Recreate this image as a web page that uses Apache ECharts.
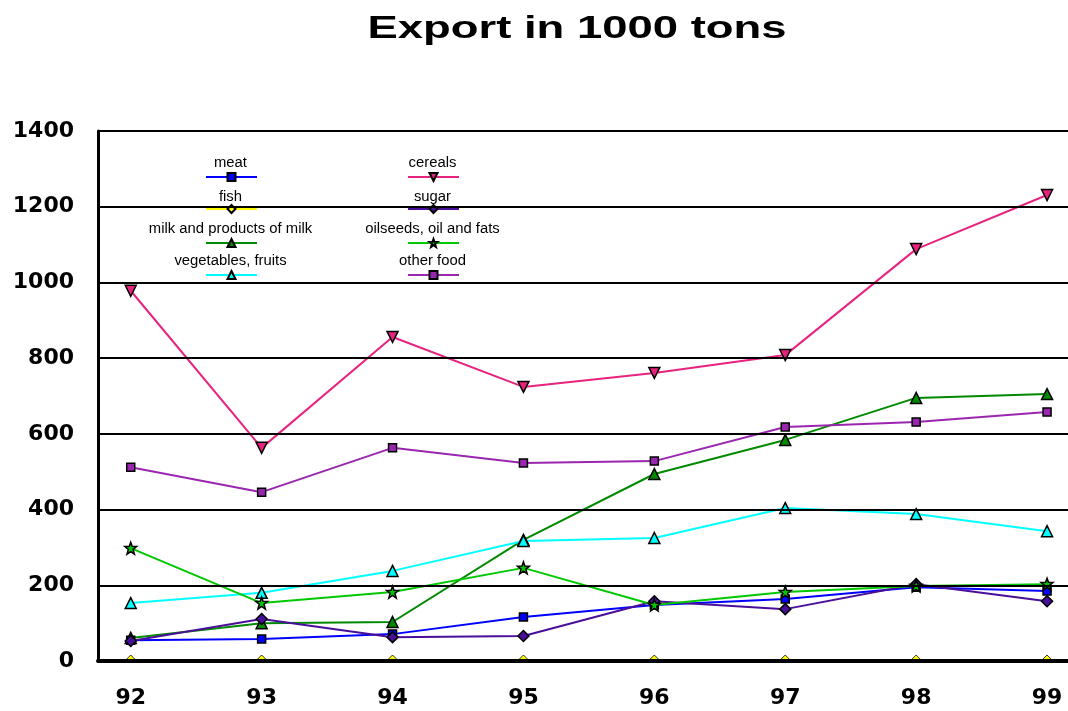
<!DOCTYPE html>
<html>
<head>
<meta charset="utf-8">
<script src="https://cdn.jsdelivr.net/npm/echarts@6/dist/echarts.min.js"></script>
<style>html,body{margin:0;padding:0;background:#fff}#c{width:1068px;height:711px}</style>
</head>
<body>
<div id="c"></div>
<script>
const years = [92, 93, 94, 95, 96, 97, 98, 99];
const yTicks = [0, 200, 400, 600, 800, 1000, 1200, 1400];
const seriesNames = ['meat', 'fish', 'milk and products of milk', 'vegetables, fruits', 'cereals', 'sugar', 'oilseeds, oil and fats', 'other food'];
const meat = [55, 58, 71, 116, 148, 164, 195, 185];
const fish = [0, 0, 0, 0, 0, 0, 0, 0];
const milk = [61, 100, 103, 320, 494, 584, 695, 705];
const vegetables = [153, 180, 238, 317, 325, 404, 388, 343];
const cereals = [978, 563, 856, 724, 761, 808, 1088, 1231];
const sugar = [53, 111, 63, 66, 158, 137, 203, 158];
const oilseeds = [298, 153, 182, 246, 148, 182, 198, 203];
const otherFood = [512, 446, 563, 523, 528, 618, 631, 658];

const starPath = 'path://M5,0 L6.2,3.4 L10,3.6 L7,6 L8.1,10 L5,7.8 L1.9,10 L3,6 L0,3.6 L3.8,3.4 Z';
const downTri = 'path://M0,0 L10,0 L5,9 Z';

const defs = [
  {name: seriesNames[0], data: meat, color: '#0000ff', symbol: 'rect', size: 8},
  {name: seriesNames[1], data: fish, color: '#ffff00', symbol: 'diamond', size: 8, offset: [0, -2], bw: 0.8},
  {name: seriesNames[2], data: milk, color: '#008a00', symbol: 'triangle', size: 11},
  {name: seriesNames[3], data: vegetables, color: '#00ffff', symbol: 'triangle', size: 11},
  {name: seriesNames[4], data: cereals, color: '#e8237f', symbol: downTri, size: 11},
  {name: seriesNames[5], data: sugar, color: '#4a0f9a', symbol: 'diamond', size: 11},
  {name: seriesNames[6], data: oilseeds, color: '#00c800', symbol: starPath, size: 12},
  {name: seriesNames[7], data: otherFood, color: '#9a26b0', symbol: 'rect', size: 8}
];

const series = defs.map(d => ({
  name: d.name,
  type: 'line',
  data: d.data.map((v, i) => [years[i], v]),
  symbol: d.symbol,
  symbolSize: d.size,
  symbolOffset: d.offset || [0, 0],
  showAllSymbol: true,
  lineStyle: {color: d.color, width: 2},
  itemStyle: {color: d.color, borderColor: '#000', borderWidth: d.bw || 1.5},
  emphasis: {disabled: true},
  animation: false,
  z: 3
}));

// legend layout: two columns, four rows
const legCols = [205, 407];
const legRows = [172, 204, 238, 270];
const textRows = [163, 197, 229, 261];
const legendOrder = [
  [seriesNames[0], 0, 0], [seriesNames[1], 0, 1], [seriesNames[2], 0, 2], [seriesNames[3], 0, 3],
  [seriesNames[4], 1, 0], [seriesNames[5], 1, 1], [seriesNames[6], 1, 2], [seriesNames[7], 1, 3]
];
const legends = legendOrder.map(([n, c, r]) => ({
  data: [n], left: legCols[c], top: legRows[r], padding: 0, itemGap: 0,
  itemWidth: 51, itemHeight: 10, formatter: () => '', textStyle: {fontSize: 1},
  selectedMode: false
}));
const graphics = legendOrder.map(([n, c, r]) => ({
  type: 'text', x: legCols[c] + 25.5, y: textRows[r], scaleX: 1.06,
  style: {text: n, font: '14px "Liberation Sans", Arial, sans-serif', fill: '#000', align: 'center', verticalAlign: 'middle'},
  z: 10
}));
graphics.push({
  type: 'text', x: 577, y: 29, scaleX: 1.42,
  style: {text: 'Export in 1000 tons', font: 'bold 32px "Liberation Sans", Arial, sans-serif', fill: '#000', align: 'center', verticalAlign: 'middle'},
  z: 10
});

const chart = echarts.init(document.getElementById('c'), null, {renderer: 'canvas'});
chart.setOption({
  backgroundColor: '#fff',
  animation: false,
  legend: legends,
  graphic: graphics,
  grid: {left: 98, top: 131, bottom: 50, right: 0, containLabel: false},
  xAxis: {
    type: 'value', min: 91.75, max: 99.16, interval: 0.25, z: 10,
    axisLine: {show: true, onZero: false, lineStyle: {color: '#000', width: 4}},
    axisTick: {show: false},
    splitLine: {show: false},
    axisLabel: {
      margin: 26, color: '#000', fontFamily: '"DejaVu Sans", sans-serif', fontWeight: 'bold', fontSize: 22,
      showMaxLabel: false, showMinLabel: false,
      formatter: v => (Math.abs(v - Math.round(v)) < 1e-6 && years.indexOf(Math.round(v)) >= 0) ? String(Math.round(v)) : ''
    }
  },
  yAxis: {
    type: 'value', min: yTicks[0], max: yTicks[yTicks.length - 1], interval: 200, z: 10,
    axisLine: {show: true, lineStyle: {color: '#000', width: 3}},
    axisTick: {show: false},
    splitLine: {show: true, lineStyle: {color: '#000', width: 2}},
    axisLabel: {margin: 24, color: '#000', fontFamily: '"DejaVu Sans", sans-serif', fontWeight: 'bold', fontSize: 22,
      formatter: v => String(v)}
  },
  series: series
});
</script>
</body>
</html>
